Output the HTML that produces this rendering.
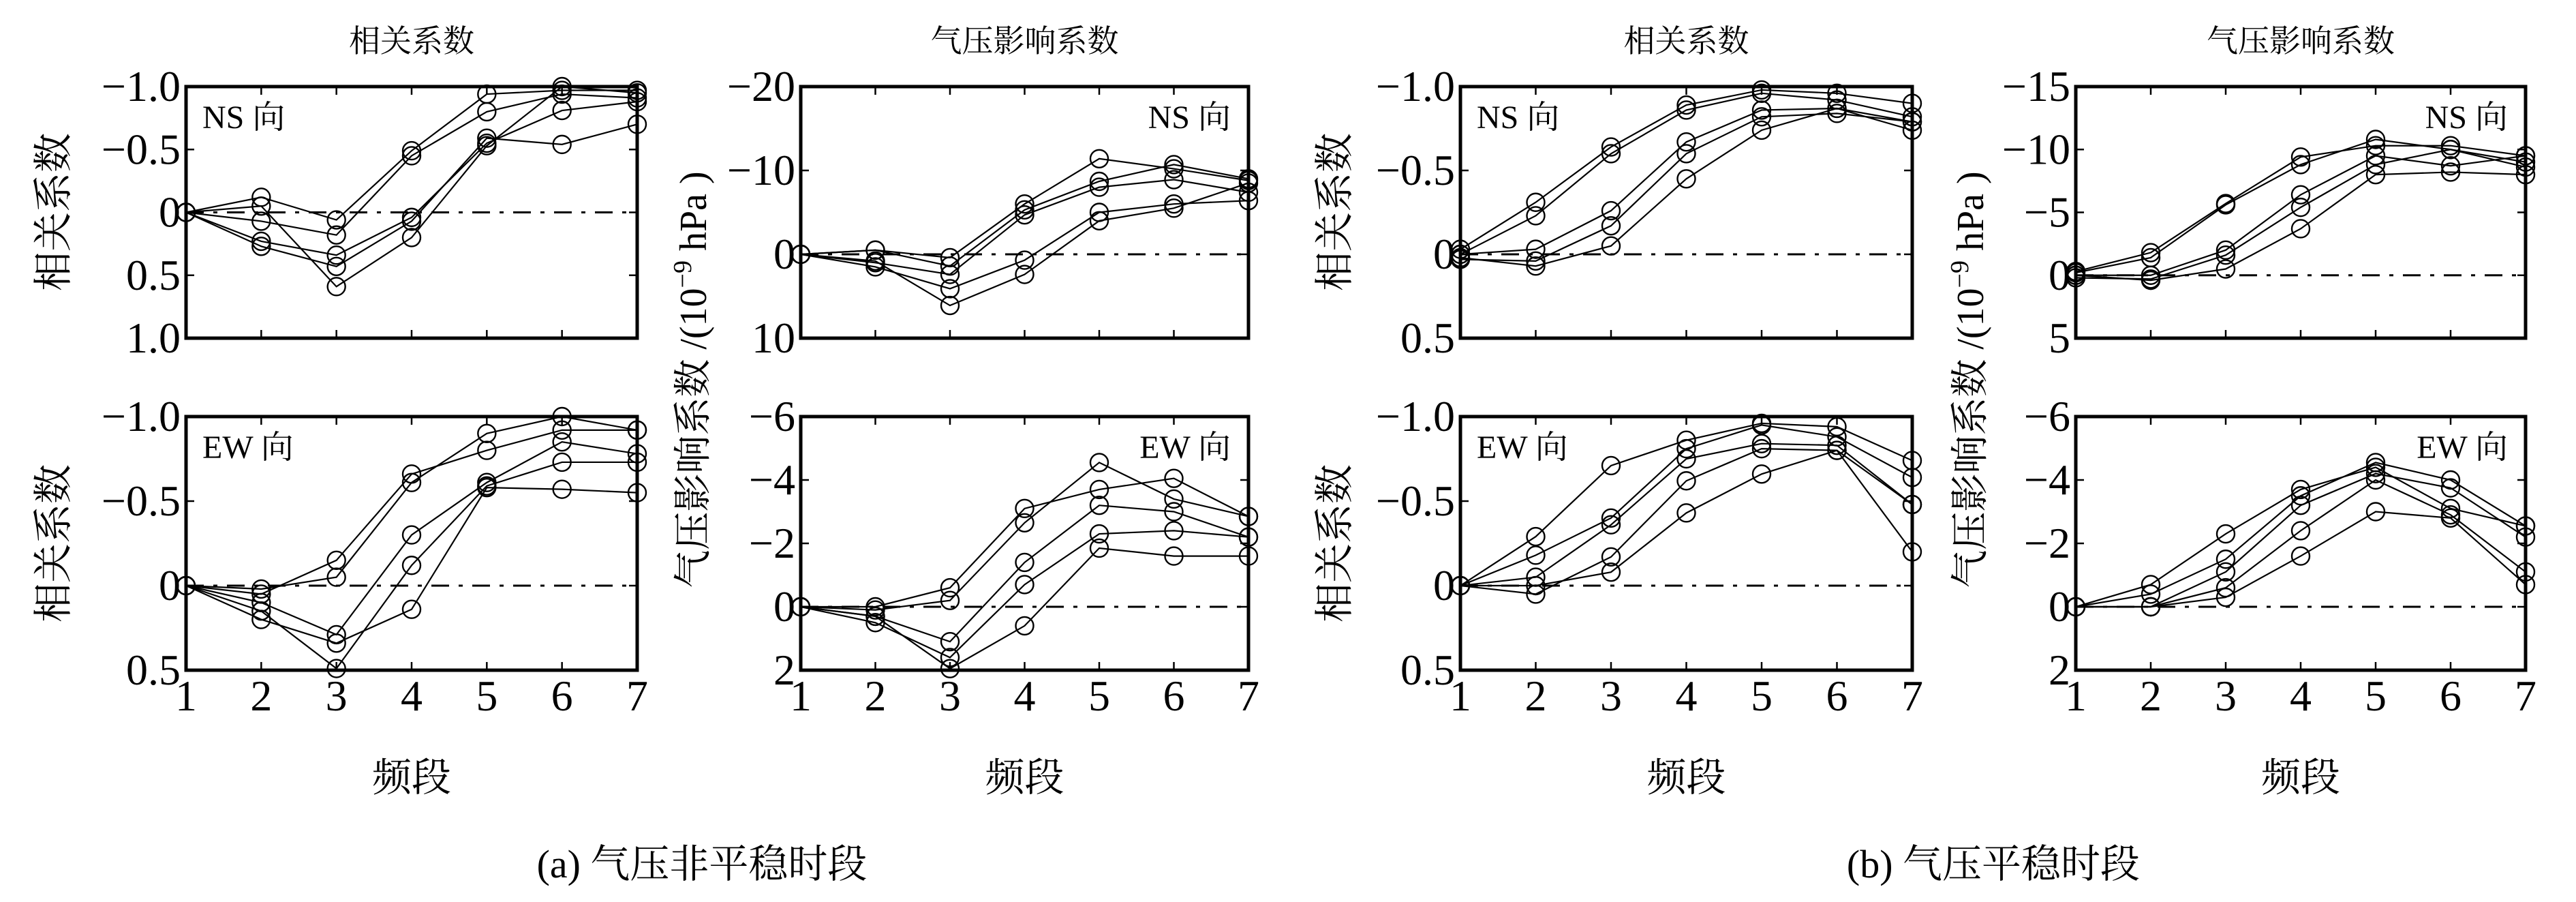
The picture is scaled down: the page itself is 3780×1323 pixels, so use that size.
<!DOCTYPE html>
<html><head><meta charset="utf-8"><style>
html,body{margin:0;padding:0;background:#fff;}
svg{display:block;}
text{fill:#000;font-family:"Liberation Serif","Noto Serif CJK SC",serif;}
</style></head><body>
<svg id="chart" xmlns="http://www.w3.org/2000/svg" width="3780" height="1323" viewBox="0 0 3780 1323">
<rect width="3780" height="1323" fill="#fff"/>
<g id="root"></g>
</svg>
<script>
const categories = [1,2,3,4,5,6,7];

// (a) non-stationary, NS correlation
const aNsCorr1 = [0,-0.12,0.06,-0.49,-0.94,-0.97,-0.97];
const aNsCorr2 = [0,0.07,0.18,-0.45,-0.80,-0.94,-0.91];
const aNsCorr3 = [0,0.23,0.34,0.04,-0.55,-0.81,-0.88];
const aNsCorr4 = [0,-0.05,0.59,0.2,-0.53,-1.0,-0.95];
const aNsCorr5 = [0,0.27,0.43,0.07,-0.59,-0.54,-0.7];
// (a) NS pressure coefficient
const aNsPres1 = [0,-0.5,0.4,-6,-11.4,-10.2,-8.8];
const aNsPres2 = [0,-0.5,1.4,-5.3,-8.7,-10.7,-9];
const aNsPres3 = [0,1,2.4,-4.7,-8,-8.9,-7.4];
const aNsPres4 = [0,1.5,4.1,0.7,-5,-6,-6.4];
const aNsPres5 = [0,0.8,6.1,2.4,-4,-5.5,-8.5];
// (a) EW correlation
const aEwCorr1 = [0,0.05,-0.15,-0.66,-0.8,-0.92,-0.92];
const aEwCorr2 = [0,0.02,-0.05,-0.61,-0.9,-1.0,-0.92];
const aEwCorr3 = [0,0.1,0.29,-0.3,-0.61,-0.85,-0.78];
const aEwCorr4 = [0,0.15,0.49,-0.12,-0.59,-0.73,-0.73];
const aEwCorr5 = [0,0.2,0.34,0.14,-0.58,-0.57,-0.55];
// (a) EW pressure
const aEwPres1 = [0,0,-0.6,-3.1,-3.7,-4.05,-2.85];
const aEwPres2 = [0,0.1,-0.2,-2.65,-4.55,-3.4,-2.85];
const aEwPres3 = [0,0.3,1.1,-1.4,-3.2,-3.0,-2.2];
const aEwPres4 = [0,0.5,1.6,-0.7,-2.3,-2.4,-2.2];
const aEwPres5 = [0,0.3,1.95,0.6,-1.85,-1.6,-1.6];
// (b) stationary, NS correlation
const bNsCorr1 = [-0.03,-0.31,-0.64,-0.89,-0.98,-0.96,-0.9];
const bNsCorr2 = [0,-0.23,-0.6,-0.86,-0.96,-0.92,-0.82];
const bNsCorr3 = [0,-0.03,-0.26,-0.67,-0.86,-0.87,-0.79];
const bNsCorr4 = [0.03,0.04,-0.17,-0.6,-0.82,-0.84,-0.79];
const bNsCorr5 = [0.02,0.07,-0.05,-0.45,-0.74,-0.87,-0.74];
// (b) NS pressure
const bNsPres1 = [-0.3,-1.8,-5.7,-9.4,-10.3,-10.3,-9.5];
const bNsPres2 = [-0.2,-1.4,-5.6,-8.8,-10.8,-10,-9];
const bNsPres3 = [0,0,-2,-6.4,-9.5,-8.7,-9.5];
const bNsPres4 = [0.2,0.3,-1.6,-5.4,-8.8,-10,-8.6];
const bNsPres5 = [0,0.4,-0.5,-3.7,-8,-8.2,-8];
// (b) EW correlation
const bEwCorr1 = [0,-0.29,-0.71,-0.86,-0.96,-0.94,-0.74];
const bEwCorr2 = [0,-0.18,-0.4,-0.81,-0.95,-0.88,-0.64];
const bEwCorr3 = [0,-0.05,-0.36,-0.75,-0.84,-0.83,-0.48];
const bEwCorr4 = [0,0.05,-0.17,-0.62,-0.81,-0.8,-0.2];
const bEwCorr5 = [0,0,-0.08,-0.43,-0.66,-0.8,-0.48];
// (b) EW pressure
const bEwPres1 = [0,-0.7,-2.3,-3.7,-4.4,-3.1,-2.55];
const bEwPres2 = [0,-0.4,-1.5,-3.5,-4.55,-4,-2.55];
const bEwPres3 = [0,0,-1.1,-3.2,-4.2,-3.75,-2.2];
const bEwPres4 = [0,0,-0.6,-2.4,-4,-2.9,-1.1];
const bEwPres5 = [0,0,-0.3,-1.6,-3,-2.8,-0.7];

const ticksCorrA = [-1.0,-0.5,0,0.5,1.0];
const ticksCorrHalf = [-1.0,-0.5,0,0.5];
const ticksPresA_NS = [-20,-10,0,10];
const ticksPres6 = [-6,-4,-2,0,2];
const ticksPresB_NS = [-15,-10,-5,0,5];
const fmtCorr = v => v===0 ? '0' : (v<0 ? '\u2212'+Math.abs(v).toFixed(1) : v.toFixed(1));
const fmtInt = v => v===0 ? '0' : (v<0 ? '\u2212'+Math.abs(v) : String(v));

const FONT='"Liberation Serif", "Noto Serif CJK SC", serif';
const NS='http://www.w3.org/2000/svg';
const root=document.getElementById('root');
function mk(tag,attrs,parent){const e=document.createElementNS(NS,tag);for(const k in attrs)e.setAttribute(k,attrs[k]);(parent||root).appendChild(e);return e;}

function panel(name,L,R,T,B,ticks,fmt,series,label,labelRight){
  const g=mk('g',{});
  
  
  const ymin=ticks[0], ymax=ticks[ticks.length-1];
  const sx=c=>L+(c-1)/(categories.length-1)*(R-L);
  const sy=v=>T+(v-ymin)/(ymax-ymin)*(B-T);
  const z=mk('line',{x1:L,x2:R,y1:sy(0),y2:sy(0),stroke:'#000','stroke-width':3,'stroke-dasharray':'26 14 6 14'},g);
  
  
  categories.forEach(c=>{
    mk('line',{x1:sx(c),x2:sx(c),y1:B,y2:B-12,stroke:'#000','stroke-width':2.5},g);
    mk('line',{x1:sx(c),x2:sx(c),y1:T,y2:T+12,stroke:'#000','stroke-width':2.5},g);
  });
  ticks.forEach(t=>{
    mk('line',{x1:L,x2:L+12,y1:sy(t),y2:sy(t),stroke:'#000','stroke-width':2.5},g);
    mk('line',{x1:R,x2:R-12,y1:sy(t),y2:sy(t),stroke:'#000','stroke-width':2.5},g);
    const tx=mk('text',{x:L-8,y:sy(t)+21,'text-anchor':'end','font-size':64,'font-family':FONT},g);
    tx.textContent=fmt(t);
    
    
  });
  series.forEach((s,i)=>{
    const pts=s.map((v,j)=>sx(categories[j])+','+sy(v)).join(' ');
    const pl=mk('polyline',{points:pts,fill:'none',stroke:'#000','stroke-width':2.2},g);
    
    
    s.forEach((v,j)=>{
      const c=mk('circle',{cx:sx(categories[j]),cy:sy(v),r:13,fill:'none',stroke:'#000','stroke-width':2.4},g);
      
      
    });
  });
  const bx=mk('rect',{x:L,y:T,width:R-L,height:B-T,fill:'none',stroke:'#000','stroke-width':5},g);
  
  
  const lt=mk('text',{x:labelRight?R-26:L+24,y:T+61,'text-anchor':labelRight?'end':'start','font-size':48,'font-family':FONT},g);
  lt.textContent=label;
  
  
}
function xTicks(L,R,name){
  categories.forEach(c=>{
    const x=L+(c-1)/(categories.length-1)*(R-L);
    const t=mk('text',{x:x,y:1042,'text-anchor':'middle','font-size':64,'font-family':FONT});
    t.textContent=String(c);
    
    
  });
}
function txt(x,y,s,size,name,rot){
  const t=mk('text',{x:x,y:y,'text-anchor':'middle','font-size':size,'font-family':FONT});
  if(rot) t.setAttribute('transform','rotate(-90 '+x+' '+y+')');
  t.textContent=s;
  
  
  return t;
}
const T1=127,B1=496,T2=611,B2=983;
const cols=[[273,935],[1175,1832],[2143,2806],[3046,3706]];
panel('panel-a-ns-corr',cols[0][0],cols[0][1],T1,B1,ticksCorrA,fmtCorr,[aNsCorr1,aNsCorr2,aNsCorr3,aNsCorr4,aNsCorr5],'NS 向',false);
panel('panel-a-ew-corr',cols[0][0],cols[0][1],T2,B2,ticksCorrHalf,fmtCorr,[aEwCorr1,aEwCorr2,aEwCorr3,aEwCorr4,aEwCorr5],'EW 向',false);
panel('panel-a-ns-pres',cols[1][0],cols[1][1],T1,B1,ticksPresA_NS,fmtInt,[aNsPres1,aNsPres2,aNsPres3,aNsPres4,aNsPres5],'NS 向',true);
panel('panel-a-ew-pres',cols[1][0],cols[1][1],T2,B2,ticksPres6,fmtInt,[aEwPres1,aEwPres2,aEwPres3,aEwPres4,aEwPres5],'EW 向',true);
panel('panel-b-ns-corr',cols[2][0],cols[2][1],T1,B1,ticksCorrHalf,fmtCorr,[bNsCorr1,bNsCorr2,bNsCorr3,bNsCorr4,bNsCorr5],'NS 向',false);
panel('panel-b-ew-corr',cols[2][0],cols[2][1],T2,B2,ticksCorrHalf,fmtCorr,[bEwCorr1,bEwCorr2,bEwCorr3,bEwCorr4,bEwCorr5],'EW 向',false);
panel('panel-b-ns-pres',cols[3][0],cols[3][1],T1,B1,ticksPresB_NS,fmtInt,[bNsPres1,bNsPres2,bNsPres3,bNsPres4,bNsPres5],'NS 向',true);
panel('panel-b-ew-pres',cols[3][0],cols[3][1],T2,B2,ticksPres6,fmtInt,[bEwPres1,bEwPres2,bEwPres3,bEwPres4,bEwPres5],'EW 向',true);
cols.forEach(c=>{
  xTicks(c[0],c[1],'x-tick-label');
  txt((c[0]+c[1])/2,1160,'频段',58,'x-axis-title');
});
txt((cols[0][0]+cols[0][1])/2,76,'相关系数',46,'column-title');
txt((cols[1][0]+cols[1][1])/2,76,'气压影响系数',46,'column-title');
txt((cols[2][0]+cols[2][1])/2,76,'相关系数',46,'column-title');
txt((cols[3][0]+cols[3][1])/2,76,'气压影响系数',46,'column-title');
txt(98,311,'相关系数',58,'y-axis-title',true);
txt(98,797,'相关系数',58,'y-axis-title',true);
txt(1978,311,'相关系数',58,'y-axis-title',true);
txt(1978,797,'相关系数',58,'y-axis-title',true);
const pl1=txt(1036,557,'',56,'y-axis-title-pressure',true);
pl1.innerHTML='气压影响系数 /(10<tspan dy="-22" font-size="38">−9</tspan><tspan dy="22"> hPa )</tspan>';
const pl2=txt(2910,557,'',56,'y-axis-title-pressure',true);
pl2.innerHTML='气压影响系数 /(10<tspan dy="-22" font-size="38">−9</tspan><tspan dy="22"> hPa )</tspan>';
txt(1030,1287,'(a) 气压非平稳时段',58,'caption-a');
txt(2925,1287,'(b) 气压平稳时段',58,'caption-b');
</script>
</body></html>
